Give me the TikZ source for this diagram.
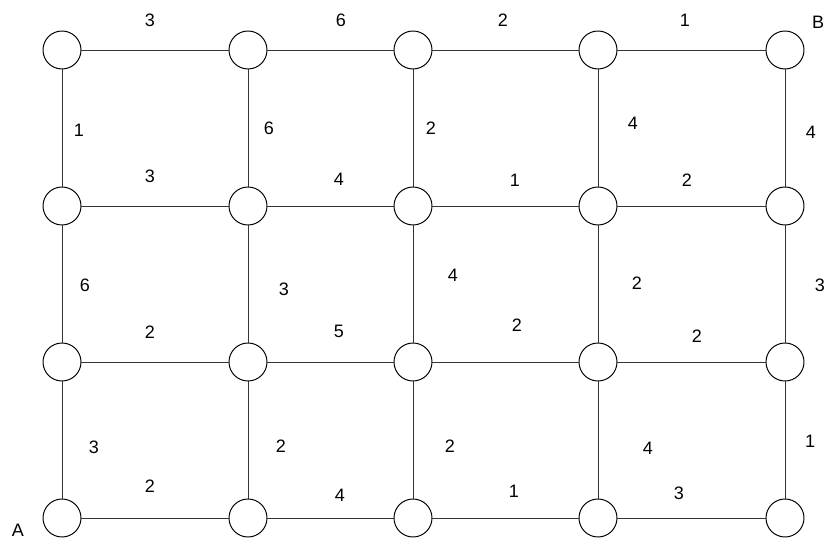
\documentclass[tikz,border=0pt]{standalone}
\usepackage{fontspec}
\setmainfont{Liberation Sans}
\usetikzlibrary{positioning}
\definecolor{edgegray}{HTML}{333333}

\begin{document}
\begin{tikzpicture}[
  vertex/.style={
    draw=black, line width=0.7pt, fill=white, circle,
    minimum size=9.5mm, inner sep=0pt
  },
  edge/.style={line width=0.7pt, edgegray},
  weight/.style={font=\fontsize{12.8}{15}\selectfont, text=black},
]

% Canvas
\useasboundingbox (0,0) rectangle (21,13.475);

% ---- Vertices ----
\foreach \r/\ypos in {1/12.225, 2/8.325, 3/4.425, 4/0.525} {
  \foreach \c/\xpos in {1/1.55, 2/6.2, 3/10.325, 4/14.95, 5/19.625} {
    \node[vertex] (v\r\c) at (\xpos,\ypos) {};
  }
}

% Horizontal edges
\foreach \r in {1,...,4} {
  \foreach \c/\n in {1/2, 2/3, 3/4, 4/5} {
    \draw[edge] (v\r\c) -- (v\r\n);
  }
}

% Vertical edges
\foreach \r/\n in {1/2, 2/3, 3/4} {
  \foreach \c in {1,...,5} {
    \draw[edge] (v\r\c) -- (v\n\c);
  }
}

% ---- Weights, row 1 ----
\node[weight] (w1a) at (3.75,12.975)  {3};
\node[weight] (w1b) at (8.525,12.975) {6};
\node[weight] (w1c) at (12.575,12.975) {2};
\node[weight] (w1d) at (17.125,12.975) {1};

% between rows 1 and 2
\node[weight] (u1a) at (1.975,10.225) {1};
\node[weight] (u1b) at (6.725,10.275) {6};
\node[weight] (u1c) at (10.775,10.275) {2};
\node[weight] (u1d) at (15.825,10.4)  {4};
\node[weight] (u1e) at (20.275,10.175) {4};

% row 2
\node[weight] (w2a) at (3.75,9.075)   {3};
\node[weight] (w2b) at (8.475,9.0)    {4};
\node[weight] (w2c) at (12.875,8.975) {1};
\node[weight] (w2d) at (17.175,8.975) {2};

% between rows 2 and 3
\node[weight] (u2a) at (2.125,6.35)  {6};
\node[weight] (u2b) at (7.1,6.25)    {3};
\node[weight] (u2c) at (11.325,6.6)  {4};
\node[weight] (u2d) at (15.925,6.4)  {2};
\node[weight] (u2e) at (20.5,6.35)   {3};

% row 3
\node[weight] (w3a) at (3.75,5.175)   {2};
\node[weight] (w3b) at (8.475,5.2)    {5};
\node[weight] (w3c) at (12.925,5.35)  {2};
\node[weight] (w3d) at (17.425,5.075) {2};

% between rows 3 and 4
\node[weight] (u3a) at (2.35,2.3)    {3};
\node[weight] (u3b) at (7.025,2.325) {2};
\node[weight] (u3c) at (11.25,2.325) {2};
\node[weight] (u3d) at (16.2,2.275)  {4};
\node[weight] (u3e) at (20.25,2.45)  {1};

% row 4
\node[weight] (w4a) at (3.75,1.325)  {2};
\node[weight] (w4b) at (8.5,1.1)     {4};
\node[weight] (w4c) at (12.85,1.2)   {1};
\node[weight] (w4d) at (16.975,1.15) {3};

% ---- End points ----
\node[weight] (ptA) at (0.45,0.225)   {A};
\node[weight] (ptB) at (20.45,12.925) {B};

\end{tikzpicture}
\end{document}
